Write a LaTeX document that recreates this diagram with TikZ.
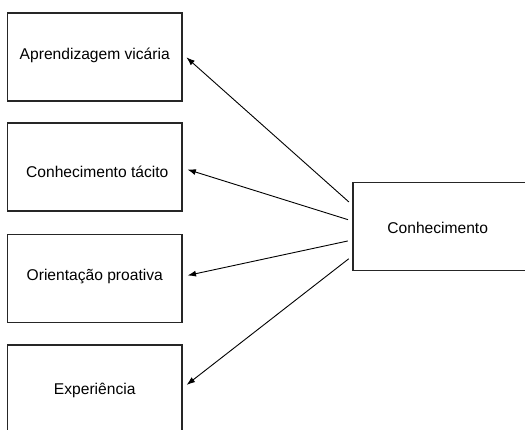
\documentclass[tikz,border=0pt]{standalone}
\usepackage{fontspec}
\setmainfont{Liberation Sans}
\usetikzlibrary{arrows.meta}
\begin{document}
\begin{tikzpicture}[
	x=1pt, y=-1pt,
	every node/.style={font=\fontsize{15.6}{18}\selectfont},
	boxnode/.style={shape=rectangle, draw=black!85, line width=1.3pt, minimum width=174.5pt, minimum height=88pt, inner sep=0pt, text height=11pt, text depth=3pt},
	arrowline/.style={line width=0.9pt, -{Latex[length=8.5pt,width=6pt]}, shorten <=4.5pt, shorten >=5pt},
] 
\useasboundingbox (0,0) rectangle (525,429);

\node[boxnode] (vicaria) at (94.75,57) {\raisebox{2pt}{Aprendizagem vicária}};
\node[boxnode] (tacito) at (94.75,167) {\hspace{5pt}\raisebox{-6pt}{Conhecimento tácito}};
\node[boxnode] (proativa) at (94.75,278.5) {\raisebox{2pt}{Orientação proativa}};
\node[boxnode] (experiencia) at (94.75,389) {\raisebox{-1pt}{Experiência}};
\node[boxnode] (conhec) at (440.2,226.5) {\hspace{-5pt}\raisebox{-3pt}{Conhecimento}};

\draw[arrowline] ([yshift=21.5pt]conhec.west) -- ([yshift=3pt]vicaria.east);
\draw[arrowline] ([yshift=5.5pt]conhec.west) -- ([yshift=-1pt]tacito.east);
\draw[arrowline] ([yshift=-13.5pt]conhec.west) -- ([yshift=2pt]proativa.east);
\draw[arrowline] ([yshift=-29.5pt]conhec.west) -- ([yshift=1pt]experiencia.east);
\end{tikzpicture}
\end{document}
